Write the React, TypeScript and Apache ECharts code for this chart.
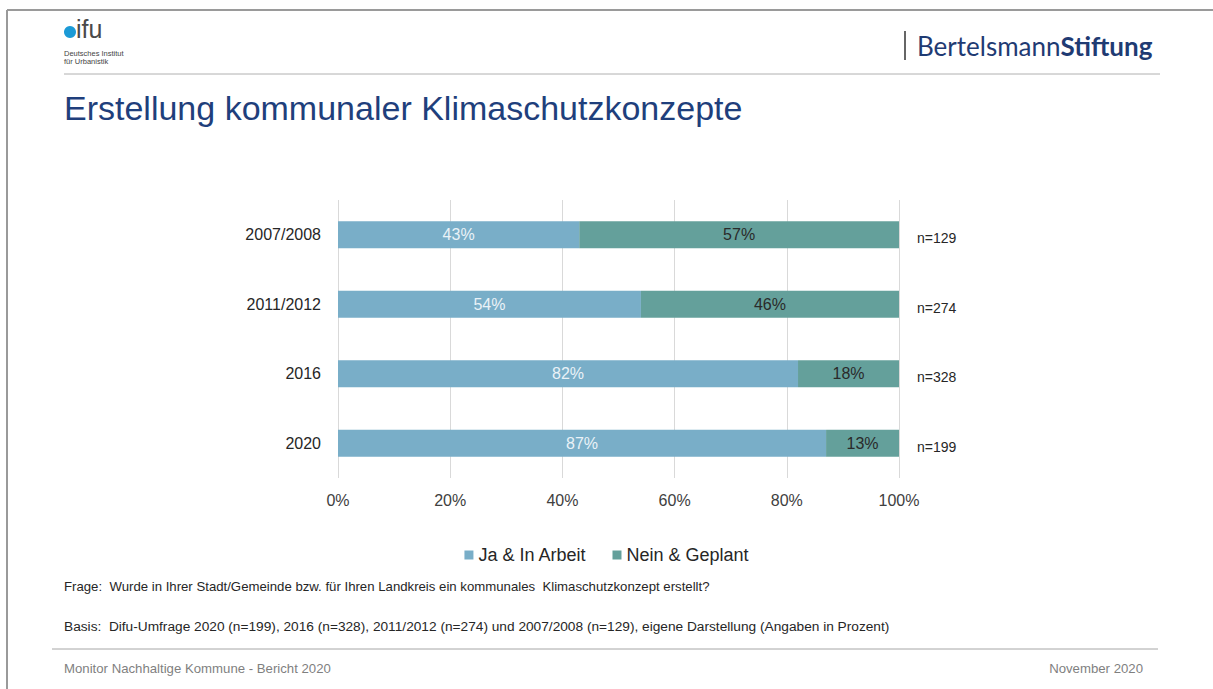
import React, { useEffect, useRef } from "react";
import * as echarts from "echarts";

const categories = ["2007/2008", "2011/2012", "2016", "2020"];
const jaValues = [43, 54, 82, 87];
const neinValues = [57, 46, 18, 13];
const nValues = [129, 274, 328, 199];
const seriesNames = ["Ja & In Arbeit", "Nein & Geplant"];
const xTicks = [0, 20, 40, 60, 80, 100];

const FONT = "Arial, 'Liberation Sans', sans-serif";

export default function App() {
  const ref = useRef<HTMLDivElement>(null);
  useEffect(() => {
    if (!ref.current) return;
    const chart = echarts.init(ref.current, undefined, { renderer: "svg" });
    chart.setOption({
      animation: false,
      backgroundColor: "#ffffff",
      textStyle: { fontFamily: FONT },
      grid: { left: 338, right: 314, top: 200, bottom: 211, containLabel: false },
      legend: {
        data: seriesNames,
        left: "center",
        top: 541,
        icon: "rect",
        itemWidth: 9,
        itemHeight: 9,
        itemGap: 26,
        textStyle: { fontSize: 18, color: "#262626", fontFamily: FONT },
      },
      xAxis: {
        type: "value",
        min: xTicks[0],
        max: xTicks[xTicks.length - 1],
        interval: 20,
        axisLine: { show: false },
        axisTick: { show: false },
        axisLabel: { formatter: "{value}%", fontSize: 16, color: "#404040", margin: 14, fontFamily: FONT },
        splitLine: { lineStyle: { color: "#d9d9d9", width: 1 } },
      },
      yAxis: [
        {
          type: "category",
          data: categories,
          inverse: true,
          axisLine: { show: false },
          axisTick: { show: false },
          axisLabel: { fontSize: 16, color: "#262626", margin: 17, fontFamily: FONT },
        },
        {
          type: "category",
          data: nValues.map((n) => "n=" + n),
          inverse: true,
          position: "right",
          axisLine: { show: false },
          axisTick: { show: false },
          axisLabel: {
            margin: 18,
            formatter: (v: string) => "{n|" + v + "}",
            rich: {
              n: { fontSize: 14, color: "#262626", fontFamily: FONT, padding: [7, 0, 0, 0] },
            },
          },
        },
      ],
      series: [
        {
          name: seriesNames[0],
          type: "bar",
          stack: "total",
          barWidth: 27,
          data: jaValues,
          itemStyle: { color: "#79aec8" },
          label: {
            show: true,
            position: "inside",
            formatter: "{c}%",
            fontSize: 16,
            color: "#eaf2f7",
            fontFamily: FONT,
          },
        },
        {
          name: seriesNames[1],
          type: "bar",
          stack: "total",
          barWidth: 27,
          data: neinValues,
          itemStyle: { color: "#64a09b" },
          label: {
            show: true,
            position: "inside",
            formatter: "{c}%",
            fontSize: 16,
            color: "#2a2a2a",
            fontFamily: FONT,
          },
        },
      ],
      graphic: [
        // page frame
        { type: "line", shape: { x1: 7, y1: 10, x2: 1213, y2: 10 }, style: { stroke: "#9a9a9a", lineWidth: 2 } },
        { type: "line", shape: { x1: 7, y1: 10, x2: 7, y2: 689 }, style: { stroke: "#9a9a9a", lineWidth: 2 } },
        // difu logo
        { type: "circle", shape: { cx: 70, cy: 32, r: 6 }, style: { fill: "#1b9ad6" } },
        {
          type: "text",
          x: 76,
          y: 29,
          style: { text: "ifu", font: "300 25px " + FONT, fill: "#4a4a4a", textVerticalAlign: "middle", textAlign: "left" },
        },
        {
          type: "text",
          x: 64,
          y: 53,
          style: { text: "Deutsches Institut", font: "7.5px " + FONT, fill: "#444", textVerticalAlign: "middle" },
        },
        {
          type: "text",
          x: 64,
          y: 61,
          style: { text: "für Urbanistik", font: "7.5px " + FONT, fill: "#444", textVerticalAlign: "middle" },
        },
        { type: "line", shape: { x1: 64, y1: 74, x2: 1160, y2: 74 }, style: { stroke: "#b0b0b0", lineWidth: 1 } },
        // Bertelsmann
        { type: "line", shape: { x1: 905, y1: 31, x2: 905, y2: 60 }, style: { stroke: "#333", lineWidth: 1.5 } },
        {
          type: "text",
          x: 917,
          y: 46,
          style: {
            text: "{a|Bertelsmann}{b|Stiftung}",
            rich: {
              a: { font: "26px Lato, " + FONT, fill: "#1f3b73" },
              b: { font: "bold 26px Lato, " + FONT, fill: "#1f3b73" },
            },
            textVerticalAlign: "middle",
          },
        },
        // title
        {
          type: "text",
          x: 64,
          y: 108,
          style: {
            text: "Erstellung kommunaler Klimaschutzkonzepte",
            font: "34px " + FONT,
            fill: "#1f3f7c",
            textVerticalAlign: "middle",
          },
        },
        // notes
        {
          type: "text",
          x: 64,
          y: 586,
          style: {
            text: "Frage:  Wurde in Ihrer Stadt/Gemeinde bzw. für Ihren Landkreis ein kommunales  Klimaschutzkonzept erstellt?",
            font: "13.2px " + FONT,
            fill: "#262626",
            textVerticalAlign: "middle",
          },
        },
        {
          type: "text",
          x: 64,
          y: 626,
          style: {
            text: "Basis:  Difu-Umfrage 2020 (n=199), 2016 (n=328), 2011/2012 (n=274) und 2007/2008 (n=129), eigene Darstellung (Angaben in Prozent)",
            font: "13.7px " + FONT,
            fill: "#262626",
            textVerticalAlign: "middle",
          },
        },
        { type: "line", shape: { x1: 52, y1: 649, x2: 1158, y2: 649 }, style: { stroke: "#a6a6a6", lineWidth: 1 } },
        {
          type: "text",
          x: 64,
          y: 668,
          style: {
            text: "Monitor Nachhaltige Kommune - Bericht 2020",
            font: "13.2px " + FONT,
            fill: "#7f7f7f",
            textVerticalAlign: "middle",
          },
        },
        {
          type: "text",
          x: 1143,
          y: 668,
          style: {
            text: "November 2020",
            font: "13.2px " + FONT,
            fill: "#7f7f7f",
            textVerticalAlign: "middle",
            textAlign: "right",
          },
        },
      ],
    });
    return () => chart.dispose();
  }, []);
  return (
    <div
      ref={ref}
      style={{ position: "fixed", left: 0, top: 0, width: 1213, height: 689, background: "#fff" }}
    />
  );
}
